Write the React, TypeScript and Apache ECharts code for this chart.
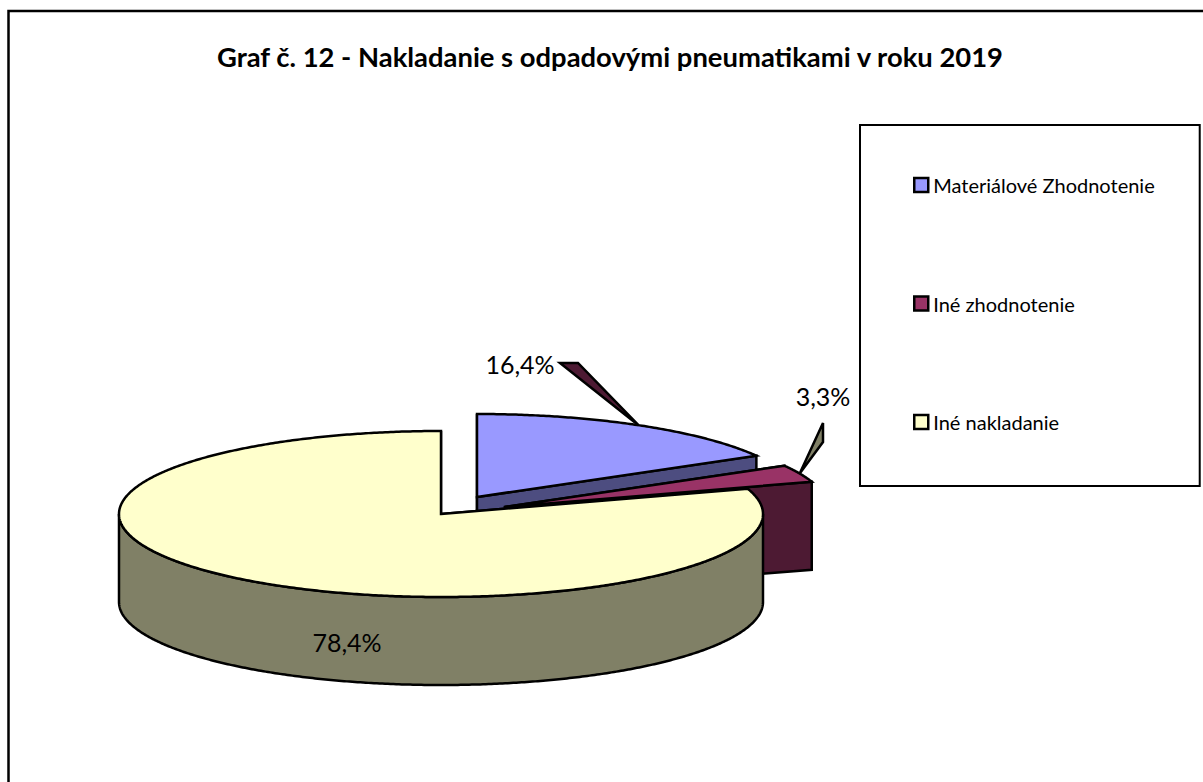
import React, { useEffect, useRef } from "react";
import * as echarts from "echarts";

const titleText = "Graf č. 12 - Nakladanie s odpadovými pneumatikami v roku 2019";
const categories = ["Materiálové Zhodnotenie", "Iné zhodnotenie", "Iné nakladanie"];
const shares = [16.4, 3.3, 78.4];
const shareLabels = ["16,4%", "3,3%", "78,4%"];
const topColors = ["#9999ff", "#993366", "#ffffcc"];
const sideColors = ["#4d4d80", "#4d1a33", "#808066"];
const centers = [[477, 497], [505, 507], [441, 514]];
const labelCenters = [[520, 364], [823, 396], [347, 642]];
const leaderColors = ["#4d1a33", "#808066", ""];
const leaderBases = [[[560, 363], [578, 363]], [[823, 423], [823, 442]], []];

const RX = 322;
const RY = 83;
const DEPTH = 88;
const FONT = "Lato";
const toRad = Math.PI / 180;
const total = shares.reduce((a, b) => a + b, 0);

function sliceRange(i: number) {
  let start = 0;
  for (let k = 0; k < i; k++) start += (shares[k] / total) * 360;
  return [start, start + (shares[i] / total) * 360];
}
function pt(i: number, deg: number, dy = 0) {
  const [cx, cy] = centers[i];
  return [cx + RX * Math.sin(deg * toRad), cy - RY * Math.cos(deg * toRad) + dy];
}
function arc(i: number, a: number, b: number, dy = 0) {
  const pts: number[][] = [];
  const n = Math.max(2, Math.ceil((b - a) * 2));
  for (let k = 0; k <= n; k++) pts.push(pt(i, a + ((b - a) * k) / n, dy));
  return pts;
}

function renderSlice(i: number) {
  const [a, b] = sliceRange(i);
  const stroke = { stroke: "#000", lineWidth: 2.5, lineJoin: "miter" as const };
  const side = { fill: sideColors[i], ...stroke };
  const c = centers[i];
  const children: any[] = [];
  const face = (deg: number) => {
    const p = pt(i, deg);
    return {
      type: "polygon",
      shape: { points: [c, p, [p[0], p[1] + DEPTH], [c[0], c[1] + DEPTH]] },
      style: side,
    };
  };
  children.push(face(a));
  children.push(face(b));
  const wa = Math.max(a, 90);
  const wb = Math.min(b, 270);
  if (wb > wa) {
    children.push({
      type: "polygon",
      shape: { points: [...arc(i, wa, wb), ...arc(i, wa, wb, DEPTH).reverse()] },
      style: side,
    });
  }
  children.push({
    type: "polygon",
    shape: { points: [c, ...arc(i, a, b)] },
    style: { fill: topColors[i], ...stroke },
  });
  if (leaderBases[i].length) {
    children.push({
      type: "polygon",
      shape: { points: [...leaderBases[i], pt(i, (a + b) / 2)] },
      style: { fill: leaderColors[i], ...stroke },
    });
  }
  children.push({
    type: "text",
    style: {
      x: labelCenters[i][0],
      y: labelCenters[i][1],
      text: shareLabels[i],
      fill: "#000",
      font: `25px ${FONT}`,
      align: "center",
      verticalAlign: "middle",
    },
  });
  return { type: "group", children };
}

export default function App() {
  const ref = useRef<HTMLDivElement>(null);
  useEffect(() => {
    const chart = echarts.init(ref.current!, null, { renderer: "svg" });
    chart.setOption({
      animation: false,
      backgroundColor: "#fff",
      title: {
        text: titleText,
        left: 212,
        top: 38,
        textStyle: { fontFamily: FONT, fontSize: 27.4, fontWeight: "bold", color: "#000" },
      },
      graphic: [
        {
          type: "polyline",
          shape: { points: [[8.5, 782], [8.5, 11], [1203, 11]] },
          style: { fill: "none", stroke: "#000", lineWidth: 2.5 },
          z: -1,
        },
      ],
      legend: {
        show: true,
        orient: "vertical",
        left: 860,
        top: 125,
        padding: [50, 45, 54, 53],
        itemWidth: 14,
        itemHeight: 14,
        itemGap: 98.5,
        icon: "rect",
        backgroundColor: "#fff",
        borderColor: "#000",
        borderWidth: 2,
        data: categories,
        itemStyle: { borderColor: "#000", borderWidth: 2.5 },
        textStyle: { fontFamily: FONT, fontSize: 20, color: "#000" },
        selectedMode: false,
      },
      series: categories.map((name, i) => ({
        type: "custom",
        name,
        coordinateSystem: "none",
        data: [shares[i]],
        itemStyle: { color: topColors[i] },
        silent: true,
        renderItem: () => renderSlice(i),
      })),
    });
    return () => chart.dispose();
  }, []);
  return <div ref={ref} style={{ position: "fixed", left: 0, top: 0, width: 1203, height: 782 }} />;
}
